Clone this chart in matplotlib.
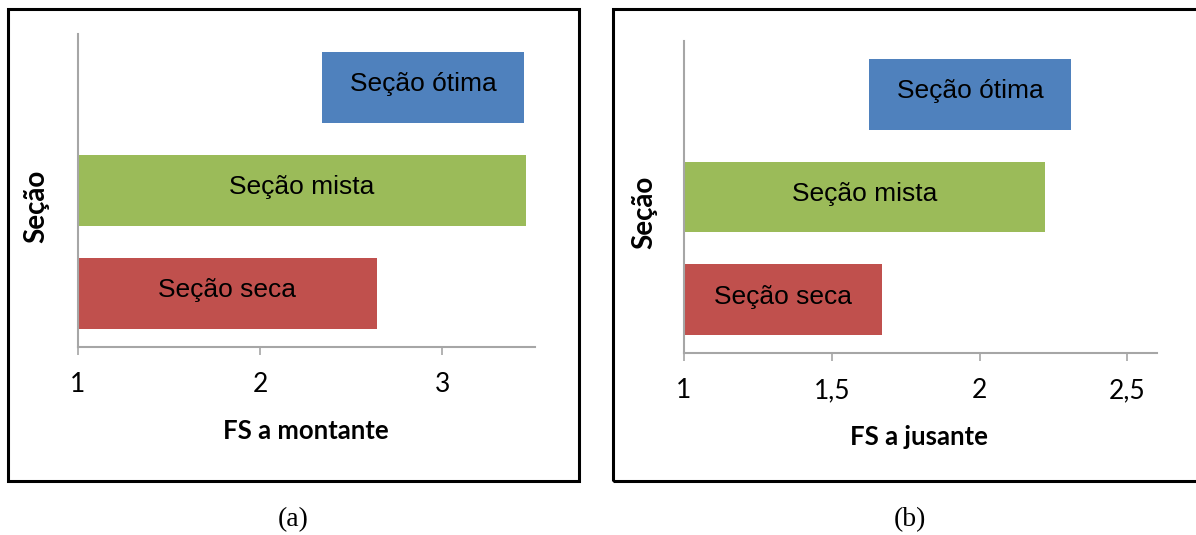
import matplotlib
matplotlib.use("Agg")
import matplotlib.pyplot as plt
from matplotlib.patches import Rectangle
from matplotlib.ticker import FuncFormatter

# dados
secoes = ['Seção seca', 'Seção mista', 'Seção ótima']
cores = ['#C0504D', '#9BBB59', '#4F81BD']

montante_inicio = [1.0, 1.0, 2.34]
montante_fim = [2.64, 3.46, 3.45]
montante_ticks = [1, 2, 3]

jusante_inicio = [1.0, 1.0, 1.625]
jusante_fim = [1.67, 2.22, 2.31]
jusante_ticks = [1, 1.5, 2, 2.5]

W, H = 1196, 535
fig = plt.figure(figsize=(W / 100, H / 100), dpi=100)

fonte_barra = ['Liberation Sans', 'DejaVu Sans']
fonte_eixo = ['Lato', 'DejaVu Sans']
cinza = '#A6A6A6'


def virgula(v, pos):
    s = ('%g' % v).replace('.', ',')
    return s


def painel(rect, inicio, fim, ticks, xmax, xlabel, lab_xy, ylab_xy):
    ax = fig.add_axes(rect)
    pos = list(range(len(secoes)))
    larg = [f - i for i, f in zip(inicio, fim)]
    ax.barh(pos, larg, left=inicio, height=0.69, color=cores, zorder=2)
    for p, i, f, nome in zip(pos, inicio, fim, secoes):
        ax.text((i + f) / 2, p + 0.03, nome, ha='center', va='center',
                fontsize=19, family=fonte_barra, color='black', zorder=3)
    ax.set_xlim(1, xmax)
    ax.set_ylim(-0.52, 2.52)
    ax.set_xticks(ticks)
    ax.xaxis.set_major_formatter(FuncFormatter(virgula))
    ax.set_yticks([])
    for s in ['top', 'right']:
        ax.spines[s].set_visible(False)
    for s in ['left', 'bottom']:
        ax.spines[s].set_color(cinza)
        ax.spines[s].set_linewidth(1.5)
    ax.tick_params(axis='x', direction='out', length=6, width=1.2, color=cinza,
                   pad=12, labelsize=19)
    for t in ax.get_xticklabels():
        t.set_family(fonte_eixo)
    ax.set_xlabel(xlabel, fontsize=18.5, fontweight='bold', family=fonte_eixo)
    ax.xaxis.set_label_coords(*lab_xy)
    ax.xaxis.label.set_va('center')
    ax.set_ylabel('Seção', fontsize=20, fontweight='bold', family=fonte_eixo)
    ax.yaxis.set_label_coords(*ylab_xy)
    ax.yaxis.label.set_va('center')
    ax.patch.set_alpha(0)
    return ax


def fx(px):
    return px / W


def fy(px):
    return 1 - px / H


# painel (a)
painel([fx(78), fy(347), fx(535) - fx(78), fy(34) - fy(347)],
       montante_inicio, montante_fim, montante_ticks, 3.51,
       'FS a montante', (0.499, -0.268), (-0.092, 0.45))

# painel (b)
painel([fx(684), fy(353), fx(1157) - fx(684), fy(41) - fy(353)],
       jusante_inicio, jusante_fim, jusante_ticks, 2.6,
       'FS a jusante', (0.497, -0.269), (-0.0846, 0.452))

# molduras pretas
fig.patches.append(Rectangle((fx(8), fy(481)), fx(579) - fx(8), fy(9) - fy(481),
                             transform=fig.transFigure, fill=False,
                             edgecolor='black', linewidth=2.2))
fig.patches.append(Rectangle((fx(613), fy(481)), fx(1200) - fx(613), fy(9) - fy(481),
                             transform=fig.transFigure, fill=False,
                             edgecolor='black', linewidth=2.2))

fig.text(fx(293), fy(520), '(a)', ha='center', va='center', fontsize=20,
         family=['Liberation Serif', 'DejaVu Serif'])
fig.text(fx(910), fy(520), '(b)', ha='center', va='center', fontsize=20,
         family=['Liberation Serif', 'DejaVu Serif'])

fig.savefig('out.png', dpi=100, facecolor='white')
